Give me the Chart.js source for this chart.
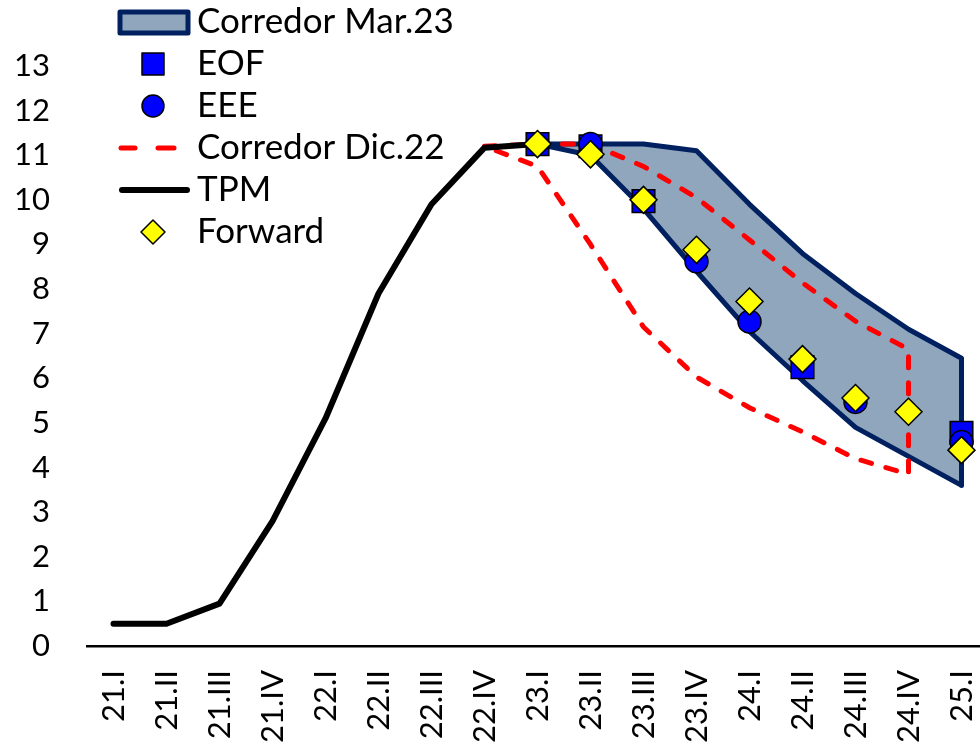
<!DOCTYPE html>
<html lang="es">
<head>
  <meta charset="UTF-8" />
  <title>TPM y corredores</title>
  <script src="https://cdn.jsdelivr.net/npm/chart.js"></script>
  <style>
    html, body { margin: 0; padding: 0; background: #fff; overflow: hidden; }
    canvas { display: block; }
  </style>
</head>
<body>

  <canvas id="grafico" width="990" height="745"></canvas>

  <script>
    const trimestres = ['21.I', '21.II', '21.III', '21.IV', '22.I', '22.II', '22.III', '22.IV',
                        '23.I', '23.II', '23.III', '23.IV', '24.I', '24.II', '24.III', '24.IV', '25.I'];

    const tpm = [0.5, 0.5, 0.95, 2.8, 5.1, 7.9, 9.9, 11.17, 11.25,
                 null, null, null, null, null, null, null, null];

    // corredor de marzo: desde 23.I hasta 25.I
    const trimMar23 = ['23.I', '23.II', '23.III', '23.IV', '24.I', '24.II', '24.III', '24.IV', '25.I'];
    const mar23Sup = [11.25, 11.25, 11.25, 11.1, 9.9, 8.8, 7.9, 7.1, 6.45];
    const mar23Inf = [11.25, 11.0, 9.8, 8.4, 7.05, 5.95, 4.9, 4.25, 3.6];

    // corredor de diciembre: desde 22.IV hasta 24.IV
    const trimDic22 = ['22.IV', '23.I', '23.II', '23.III', '23.IV', '24.I', '24.II', '24.III', '24.IV'];
    const dic22Sup = [11.2, 11.25, 11.25, 10.75, 10.05, 9.1, 8.14, 7.28, 6.65];
    const dic22Inf = [11.2, 10.75, 9.0, 7.15, 6.03, 5.34, 4.8, 4.2, 3.85];

    const eof = [null, null, null, null, null, null, null, null,
                 11.25, 11.2, 9.97, null, null, 6.25, null, null, 4.78];
    const eee = [null, null, null, null, null, null, null, null,
                 null, 11.25, null, 8.62, 7.27, null, 5.47, null, 4.57];
    const forward = [null, null, null, null, null, null, null, null,
                     11.25, 11.02, 10.0, 8.88, 7.72, 6.43, 5.56, 5.25, 4.39];

    const NAVY = '#002060';
    const BANDA = '#8fa6bd';
    const ROJO = '#ff0000';
    const FUENTE = 'Lato';

    // contorno cerrado: borde superior hacia adelante y borde inferior de vuelta
    function contorno(trims, sup, inf) {
      const ida = trims.map((t, i) => ({ x: t, y: sup[i] }));
      const vuelta = trims.map((t, i) => ({ x: t, y: inf[i] })).reverse();
      return ida.concat(vuelta);
    }

    const leyenda = [
      { texto: 'Corredor Mar.23', tipo: 'banda' },
      { texto: 'EOF', tipo: 'cuadrado' },
      { texto: 'EEE', tipo: 'circulo' },
      { texto: 'Corredor Dic.22', tipo: 'guiones' },
      { texto: 'TPM', tipo: 'linea' },
      { texto: 'Forward', tipo: 'rombo' }
    ];

    const pluginLeyenda = {
      id: 'leyendaPropia',
      afterDraw(chart) {
        const ctx = chart.ctx;
        ctx.save();
        ctx.font = '35px ' + FUENTE;
        ctx.textBaseline = 'middle';
        leyenda.forEach((item, i) => {
          const y = 22 + i * 42;
          const cx = 153;
          ctx.setLineDash([]);
          if (item.tipo === 'banda') {
            ctx.fillStyle = BANDA;
            ctx.strokeStyle = NAVY;
            ctx.lineWidth = 5;
            ctx.lineJoin = 'round';
            ctx.fillRect(120, y - 10, 68, 21);
            ctx.strokeRect(120, y - 10, 68, 21);
          } else if (item.tipo === 'cuadrado') {
            ctx.fillStyle = '#0000ff';
            ctx.strokeStyle = '#000';
            ctx.lineWidth = 1.5;
            ctx.fillRect(cx - 11, y - 11, 22, 22);
            ctx.strokeRect(cx - 11, y - 11, 22, 22);
          } else if (item.tipo === 'circulo') {
            ctx.fillStyle = '#0000ff';
            ctx.strokeStyle = '#000';
            ctx.lineWidth = 1.5;
            ctx.beginPath();
            ctx.arc(cx, y, 11, 0, Math.PI * 2);
            ctx.fill();
            ctx.stroke();
          } else if (item.tipo === 'guiones') {
            ctx.strokeStyle = ROJO;
            ctx.lineWidth = 5;
            ctx.lineCap = 'round';
            ctx.beginPath();
            ctx.moveTo(121, y); ctx.lineTo(135, y);
            ctx.moveTo(158, y); ctx.lineTo(174, y);
            ctx.stroke();
          } else if (item.tipo === 'linea') {
            ctx.strokeStyle = '#000';
            ctx.lineWidth = 6;
            ctx.lineCap = 'round';
            ctx.beginPath();
            ctx.moveTo(122, y); ctx.lineTo(187, y);
            ctx.stroke();
          } else if (item.tipo === 'rombo') {
            ctx.fillStyle = '#ffff00';
            ctx.strokeStyle = '#000';
            ctx.lineWidth = 1.5;
            ctx.beginPath();
            ctx.moveTo(cx, y - 12); ctx.lineTo(cx + 12, y);
            ctx.lineTo(cx, y + 12); ctx.lineTo(cx - 12, y);
            ctx.closePath();
            ctx.fill();
            ctx.stroke();
          }
          ctx.fillStyle = '#000';
          ctx.fillText(item.texto, 197, y);
        });
        ctx.restore();
      }
    };

    const marcador = (estilo, radio, color) => ({
      type: 'line',
      showLine: false,
      pointStyle: estilo,
      pointRadius: radio,
      pointHoverRadius: radio,
      pointBackgroundColor: color,
      pointBorderColor: '#000',
      pointBorderWidth: 1.5,
      clip: false
    });

    // el primer dataset queda arriba al dibujar
    new Chart(document.getElementById('grafico').getContext('2d'), {
      type: 'line',
      data: {
        labels: trimestres,
        datasets: [
          Object.assign(marcador('rectRot', 13.5, '#ffff00'), { label: 'Forward', data: forward }),
          Object.assign(marcador('circle', 11.5, '#0000ff'), { label: 'EEE', data: eee }),
          Object.assign(marcador('rect', 16, '#0000ff'), { label: 'EOF', data: eof }),
          {
            label: 'TPM',
            data: tpm,
            borderColor: '#000',
            borderWidth: 6,
            borderCapStyle: 'round',
            borderJoinStyle: 'round',
            pointRadius: 0,
            tension: 0,
            fill: false
          },
          {
            label: 'Corredor Dic.22',
            data: contorno(trimDic22, dic22Sup, dic22Inf),
            borderColor: ROJO,
            borderWidth: 5,
            borderDash: [11, 15],
            borderCapStyle: 'round',
            pointRadius: 0,
            tension: 0,
            fill: false
          },
          {
            label: 'Corredor Mar.23',
            data: contorno(trimMar23, mar23Sup, mar23Inf),
            borderColor: NAVY,
            backgroundColor: BANDA,
            borderWidth: 5,
            borderJoinStyle: 'round',
            pointRadius: 0,
            tension: 0,
            fill: 'shape'
          }
        ]
      },
      options: {
        responsive: false,
        animation: false,
        layout: { autoPadding: false, padding: { top: 66, right: 2, left: 0, bottom: 0 } },
        plugins: {
          legend: { display: false },
          tooltip: { enabled: false }
        },
        scales: {
          x: {
            offset: true,
            grid: { display: true, color: 'rgba(0,0,0,0)', drawTicks: false },
            border: { display: true, color: '#000', width: 2.5 },
            ticks: {
              color: '#000',
              font: { family: FUENTE, size: 31 },
              minRotation: 90,
              maxRotation: 90,
              autoSkip: false,
              padding: 24
            },
            afterFit(scale) {
              scale.height = 99;
              scale.paddingLeft = 0;
              scale.paddingRight = 0;
            }
          },
          y: {
            min: 0,
            max: 13,
            grid: { display: false, drawTicks: false },
            border: { display: false },
            ticks: {
              stepSize: 1,
              color: '#000',
              font: { family: FUENTE, size: 31 },
              padding: 37
            },
            afterFit(scale) { scale.width = 87; }
          }
        }
      },
      plugins: [pluginLeyenda]
    });
  </script>

</body>
</html>
